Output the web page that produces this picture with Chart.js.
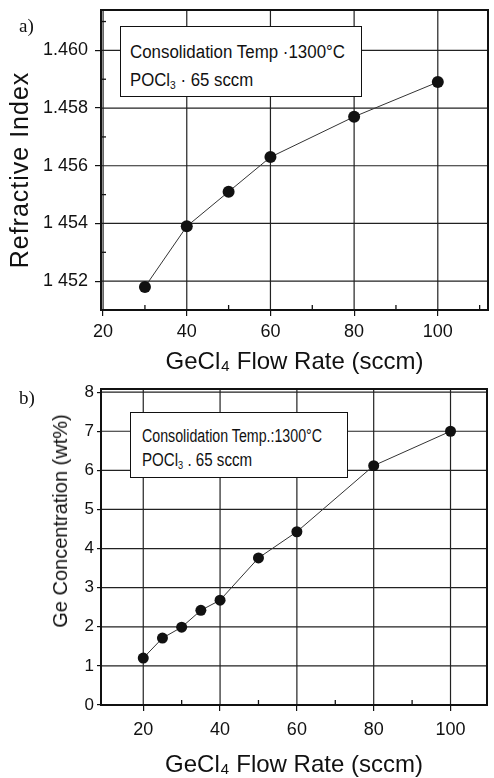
<!DOCTYPE html>
<html><head><meta charset="utf-8">
<script src="https://cdn.jsdelivr.net/npm/chart.js@4.4.1/dist/chart.umd.min.js"></script>
<style>
html,body{margin:0;padding:0;background:#fff;}
body{width:494px;height:778px;position:relative;overflow:hidden;font-family:'Liberation Sans',Arial,sans-serif;color:#111;}
.wrap{position:absolute;left:0;width:494px;}
#wa{top:0;height:380px;}
#wb{top:380px;height:398px;}
canvas{display:block;}
.panel{position:absolute;font-family:'Liberation Serif','Times New Roman',serif;font-size:19px;line-height:1;color:#111;}
.note{position:absolute;background:#fff;border:1.5px solid #111;box-sizing:border-box;}
.note span{position:absolute;white-space:nowrap;transform-origin:left center;font-size:18px;line-height:1;}
.note sub{font-size:11px;vertical-align:-3px;}
.ytitle{position:absolute;white-space:nowrap;line-height:1;transform:translate(-50%,-50%) rotate(-90deg);}
</style>
</head>
<body>
<div class="wrap" id="wa"><canvas id="ca" width="494" height="380"></canvas></div>
<div class="wrap" id="wb"><canvas id="cb" width="494" height="398"></canvas></div>

<div class="panel" style="left:19px;top:16px;">a)</div>
<div class="panel" style="left:19px;top:388px;">b)</div>

<div class="ytitle" style="left:19px;top:170px;font-size:25px;letter-spacing:1px;">Refractive Index</div>
<div class="ytitle" style="left:60px;top:521px;font-size:20px;">Ge Concentration (wt%)</div>

<div class="note" style="left:120px;top:26px;width:242px;height:71px;">
  <span class="fit" data-w="215" style="left:9px;top:16px;">Consolidation Temp ·1300°C</span>
  <span class="fit" data-w="123" style="left:9px;top:44px;">POCl<sub>3</sub> · 65 sccm</span>
</div>
<div class="note" style="left:130px;top:412px;width:218px;height:66px;">
  <span class="fit" data-w="180" style="left:11px;top:14px;">Consolidation Temp.:1300°C</span>
  <span class="fit" data-w="110" style="left:11px;top:38px;">POCl<sub>3</sub> . 65 sccm</span>
</div>

<script>
// ---- data: panel a ----
const flowA = [30, 40, 50, 60, 80, 100];
const refractiveIndex = [1.4518, 1.4539, 1.4551, 1.4563, 1.4577, 1.4589];
const xTicksA = [20, 40, 60, 80, 100];
const xMinorA = [30, 50, 70, 90, 110];
const yTicksA = [1.452, 1.454, 1.456, 1.458, 1.460];
const yTickLabelsA = ['1 452', '1 454', '1 456', '1.458', '1.460'];
const yMinorA = [1.453, 1.455, 1.457, 1.459, 1.461];

// ---- data: panel b ----
const flowB = [20, 25, 30, 35, 40, 50, 60, 80, 100];
const geConcentration = [1.2, 1.71, 1.99, 2.42, 2.68, 3.76, 4.43, 6.12, 7.0];
const xTicksB = [20, 40, 60, 80, 100];
const xMinorB = [30, 50, 70, 90];
const yTicksB = [0, 1, 2, 3, 4, 5, 6, 7, 8];

const FAM = "'Liberation Sans', Arial, sans-serif";
const INK = '#111';

function line(ctx, x1, y1, x2, y2) {
  ctx.beginPath(); ctx.moveTo(x1, y1); ctx.lineTo(x2, y2); ctx.stroke();
}

const gridPlugin = {
  id: 'ownGrid',
  beforeDatasetsDraw(chart) {
    const ctx = chart.ctx;
    const ca = chart.chartArea;
    const xs = chart.scales.x, ys = chart.scales.y;
    ctx.save();
    ctx.setLineDash([]);
    ctx.strokeStyle = '#222';
    ctx.lineWidth = 1.2;
    xs.ticks.forEach(t => {
      const px = xs.getPixelForValue(t.value);
      line(ctx, px, ca.top, px, ca.bottom);
    });
    ys.ticks.forEach(t => {
      const py = ys.getPixelForValue(t.value);
      line(ctx, ca.left, py, ca.right, py);
    });
    ctx.restore();
  }
};

const framePlugin = {
  id: 'frame',
  afterDraw(chart, args, opts) {
    const ctx = chart.ctx;
    const ca = chart.chartArea;
    const xs = chart.scales.x, ys = chart.scales.y;
    ctx.save();
    ctx.setLineDash([]);
    ctx.strokeStyle = INK;
    ctx.lineWidth = 1.3;
    (opts.xMinor || []).forEach(v => {
      const px = xs.getPixelForValue(v);
      line(ctx, px, ca.bottom, px, ca.bottom - 5);
    });
    (opts.yMinor || []).forEach(v => {
      const py = ys.getPixelForValue(v);
      line(ctx, ca.left, py, ca.left + 5, py);
    });
    ctx.lineWidth = 2;
    ctx.strokeRect(ca.left, ca.top, ca.right - ca.left, ca.bottom - ca.top);
    ctx.restore();
  }
};

function noPad(s) { s.paddingTop = 0; s.paddingBottom = 0; s.paddingLeft = 0; s.paddingRight = 0; }

function makeChart(id, xs, ys, cfg) {
  return new Chart(document.getElementById(id), {
    type: 'scatter',
    data: {
      datasets: [{
        data: xs.map((v, i) => ({x: v, y: ys[i]})),
        showLine: true,
        borderColor: '#333',
        borderWidth: 1,
        pointRadius: cfg.pointRadius,
        pointBackgroundColor: INK,
        pointBorderColor: INK,
        pointBorderWidth: 0
      }]
    },
    options: {
      responsive: false,
      animation: false,
      devicePixelRatio: 1,
      layout: {padding: cfg.padding},
      plugins: {legend: {display: false}, tooltip: {enabled: false}, frame: {xMinor: cfg.xMinor, yMinor: cfg.yMinor}},
      scales: {
        x: {
          type: 'linear', min: cfg.xMin, max: cfg.xMax,
          afterBuildTicks: s => { s.ticks = cfg.xTicks.map(v => ({value: v})); },
          afterFit: s => { s.height = cfg.xHeight; noPad(s); },
          grid: {drawOnChartArea: false, color: '#333', lineWidth: 1.2, tickLength: 6, tickColor: INK},
          border: {display: false},
          ticks: {font: {size: 18, family: FAM}, color: INK, padding: cfg.xTickPad, maxRotation: 0, callback: v => String(v)},
          title: {display: true, text: 'GeCl₄ Flow Rate (sccm)', color: INK,
                  font: {size: 24, family: FAM, lineHeight: 1}, padding: {top: 0, bottom: cfg.xTitlePad}}
        },
        y: {
          type: 'linear', min: cfg.yMin, max: cfg.yMax,
          afterBuildTicks: s => { s.ticks = cfg.yTicks.map(v => ({value: v})); },
          afterFit: s => { s.width = 101; noPad(s); },
          grid: {drawOnChartArea: false, color: '#333', lineWidth: 1.2, tickLength: cfg.yTickLen, tickColor: INK},
          border: {display: false},
          ticks: {font: {size: cfg.yFont, family: FAM}, color: INK, padding: cfg.yTickPad,
                  callback: (v, i) => cfg.yLabels[i]}
        }
      }
    },
    plugins: [gridPlugin, framePlugin]
  });
}

makeChart('ca', flowA, refractiveIndex, {
  pointRadius: 6, padding: {top: 10, right: 3, left: 0, bottom: 0},
  xMin: 19.5, xMax: 112, xTicks: xTicksA, xMinor: xMinorA, xHeight: 70, xTickPad: 5, xTitlePad: 6,
  yMin: 1.451, yMax: 1.4614, yTicks: yTicksA, yLabels: yTickLabelsA, yMinor: yMinorA,
  yFont: 18, yTickLen: 6, yTickPad: 7
});

makeChart('cb', flowB, geConcentration, {
  pointRadius: 5.5, padding: {top: 9, right: 7, left: 0, bottom: 0},
  xMin: 9, xMax: 109.5, xTicks: xTicksB, xMinor: xMinorB, xHeight: 73, xTickPad: 8, xTitlePad: 1,
  yMin: 0, yMax: 8.08, yTicks: yTicksB, yLabels: yTicksB.map(String), yMinor: [],
  yFont: 17, yTickLen: 4, yTickPad: 3
});

document.querySelectorAll('.fit').forEach(el => {
  const w = +el.dataset.w;
  const cur = el.offsetWidth;
  if (cur > 0) el.style.transform = 'scaleX(' + (w / cur) + ')';
});
</script>
</body></html>
